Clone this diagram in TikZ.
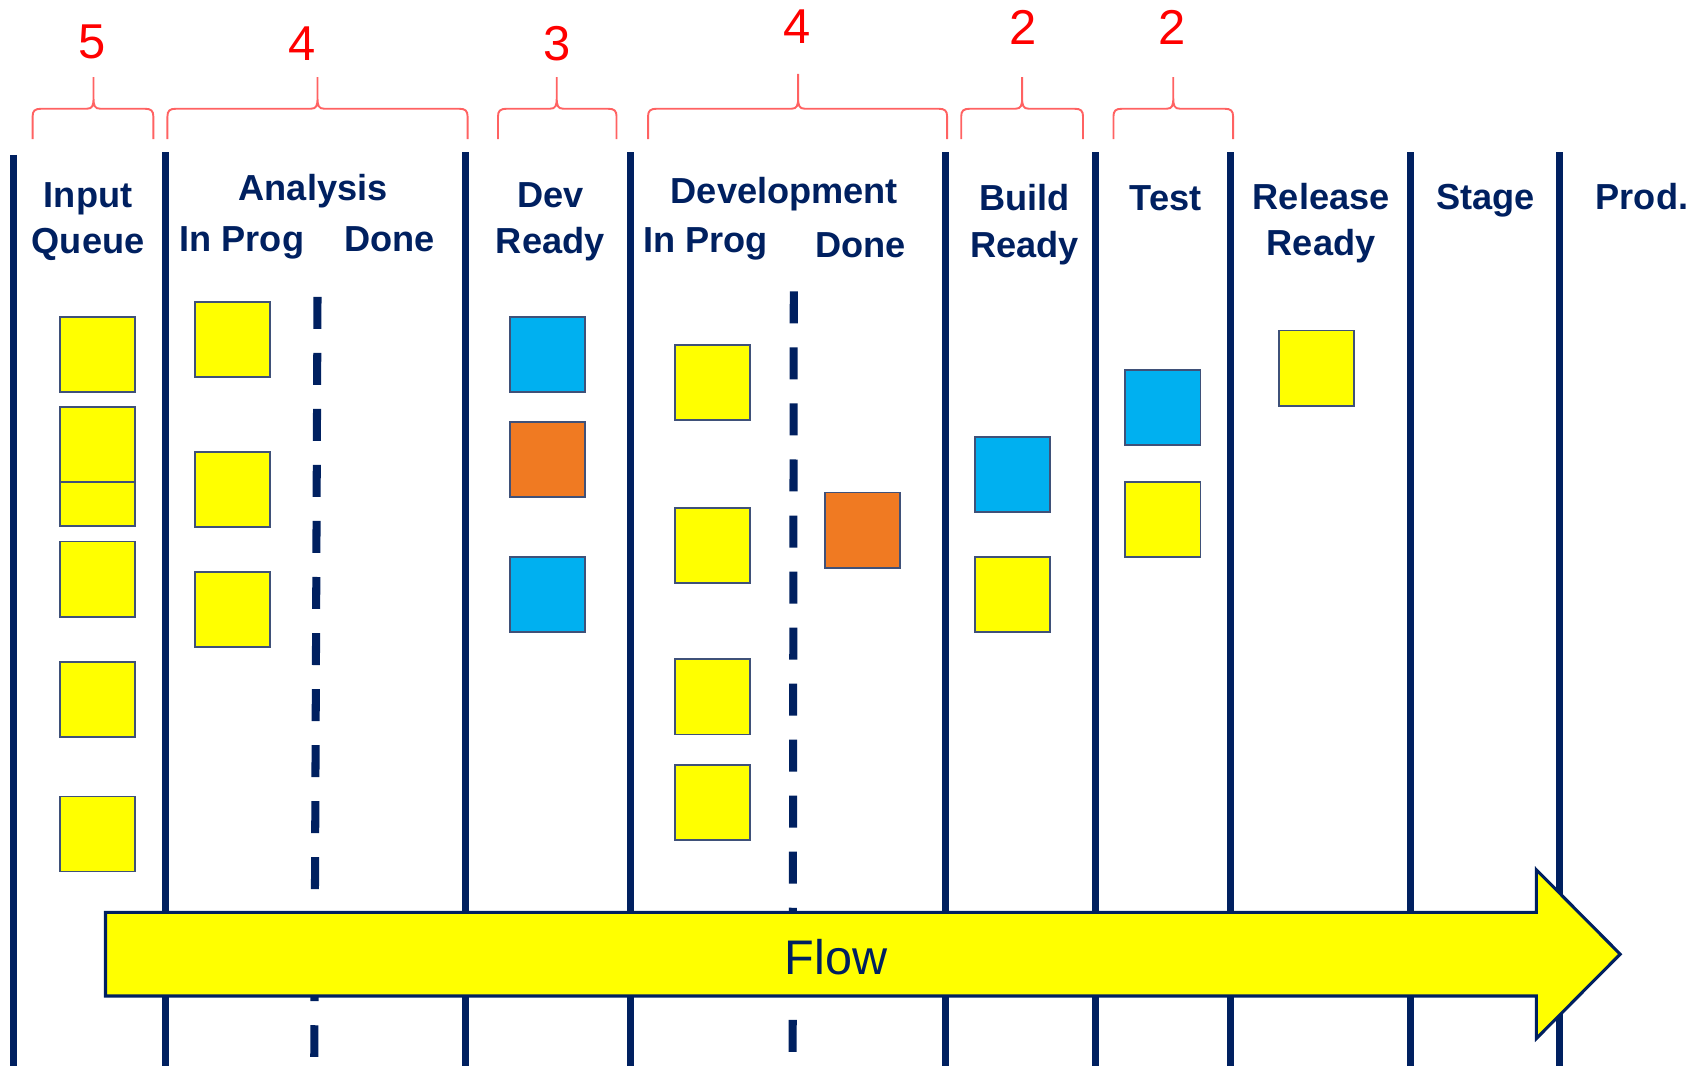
\documentclass[tikz,border=0pt]{standalone}
\usepackage{fontspec}
\setmainfont{Liberation Sans}
\usetikzlibrary{positioning}
\definecolor{navy}{HTML}{002060}
\definecolor{cardy}{HTML}{FFFF00}
\definecolor{cardb}{HTML}{00B0F0}
\definecolor{cardo}{HTML}{F07A22}
\definecolor{cardedge}{HTML}{3F5179}
\definecolor{bracered}{HTML}{FF6262}
% brace over a column: left x, right x, cusp x, cusp y
\newcommand{\wipbrace}[4]{%
  \draw[wipb] (#1,128) -- (#1,107) .. controls (#1,102) and (#1+2,100) .. (#1+8,100)
    -- (#3-6,100) .. controls (#3-1,100) and (#3,97) .. (#3,90) -- (#3,#4)
    -- (#3,90) .. controls (#3,97) and (#3+1,100) .. (#3+6,100)
    -- (#2-8,100) .. controls (#2-2,100) and (#2,102) .. (#2,107) -- (#2,128);}
\begin{document}
\begin{tikzpicture}[
                x=0.01cm, y=-0.01cm,
                lane/.style = {draw=navy, line width=1.9pt},
                split/.style = {draw=navy, line width=2.1pt, dash pattern=on 0.294cm off 0.221cm},
                card/.style = {draw=cardedge, line width=0.5pt, minimum size=0.69cm, inner sep=0pt},
                hdr/.style = {font=\bfseries\fontsize{9.46pt}{12.1pt}\selectfont, text=navy, align=center, inner sep=0pt, anchor=base},
                wip/.style = {font=\fontsize{12.8pt}{14pt}\selectfont, text=red, inner sep=0pt},
                wipb/.style = {draw=bracered, line width=0.5pt}
                    ]
                \useasboundingbox (0,0) rectangle (1568,980);
                % board
                \draw[lane] (12.4,142.5) -- (12.4,980);
                \foreach \x in {152,428,580,869.3,1007.4,1131.8,1297,1434.5}
                  \draw[lane] (\x,140) -- (\x,980);
                \draw[split] (292,273) -- (289,972);
                \draw[split] (730,268) -- (729,968);
                % limits
                \wipbrace{30}{141}{86}{71}
                \wipbrace{154}{430}{292}{71}
                \wipbrace{458}{567}{512}{71}
                \wipbrace{596}{871}{734}{68}
                \wipbrace{884}{996}{940}{71}
                \wipbrace{1024}{1134}{1079}{71}
                \node[wip] (l1) at (85,39) {5};
                \node[wip] (l2) at (278,40) {4};
                \node[wip] (l3) at (512,40) {3};
                \node[wip] (l4) at (733,24.5) {4};
                \node[wip] (l5) at (941,25) {2};
                \node[wip] (l6) at (1078,25) {2};
                % headers (base = last line)
                \node[hdr] (iq) at (81,233) {Input\\Queue};
                \node[hdr] (an) at (288,184) {Analysis};
                \node[hdr] (anp) at (222.4,231.5) {In Prog};
                \node[hdr] (and) at (358,231.5) {Done};
                \node[hdr] (dr) at (506,233) {Dev\\Ready};
                \node[hdr] (dv) at (721.4,187) {Development};
                \node[hdr] (dvp) at (649,232.4) {In Prog};
                \node[hdr] (dvd) at (791.6,236.6) {Done};
                \node[hdr] (br) at (942.3,236.6) {Build\\Ready};
                \node[hdr] (ts) at (1072,193.7) {Test};
                \node[hdr] (rr) at (1215,235) {Release\\Ready};
                \node[hdr] (st) at (1366,193) {Stage};
                \node[hdr] (pr) at (1510,192.5) {Prod.};
                % cards
                \foreach \y [count=\i] in {326,449.5,408.5,532.5,643,767}
                  \node[card, fill=cardy] (iq\i) at (89.5,\y) {};
                \foreach \y [count=\i] in {312.5,450,560.5}
                  \node[card, fill=cardy] (an\i) at (213.5,\y) {};
                \foreach \y/\c [count=\i] in {326/cardb,422.5/cardo,546.5/cardb}
                  \node[card, fill=\c] (dr\i) at (503.5,\y) {};
                \foreach \y [count=\i] in {352,501.5,641,738}
                  \node[card, fill=cardy] (dv\i) at (655,\y) {};
                \node[card, fill=cardo] (dd1) at (793.5,487.5) {};
                \node[card, fill=cardb] (br1) at (931.5,436.5) {};
                \node[card, fill=cardy] (br2) at (931.5,546.5) {};
                \node[card, fill=cardb] (ts1) at (1069.5,374.5) {};
                \node[card, fill=cardy] (ts2) at (1069.5,477.5) {};
                \node[card, fill=cardy] (rr1) at (1210.5,338.5) {};
                % flow arrow
                \draw[draw=navy, fill=cardy, line width=0.8pt] (97,839) -- (1413,839) -- (1413,800)
                  -- (1490,877.5) -- (1413,955) -- (1413,916) -- (97,916) -- cycle;
                \node[font=\fontsize{12.7pt}{14pt}\selectfont, text=navy, inner sep=0pt, anchor=base] (flow) at (769,896) {Flow};
            \end{tikzpicture}
\end{document}
